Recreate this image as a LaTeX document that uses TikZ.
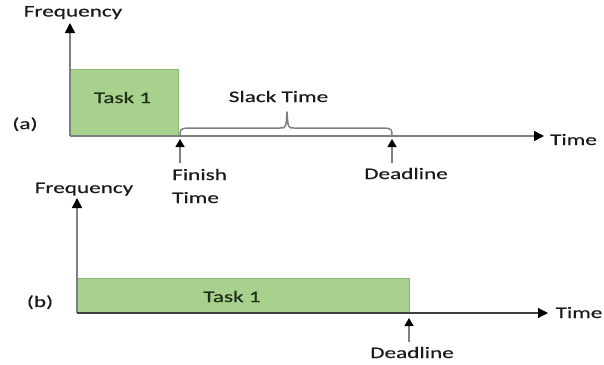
\documentclass[tikz,border=0pt]{standalone}
\usepackage{fontspec}
\setmainfont{Carlito}[FakeStretch=1.45,FakeBold=0.5]
\usetikzlibrary{arrows.meta}
\definecolor{taskfill}{HTML}{A9D18E}
\definecolor{taskdraw}{HTML}{8DB870}
\definecolor{axisgray}{HTML}{7F7F7F}
\definecolor{axisdark}{HTML}{404040}
\definecolor{txt}{HTML}{1A1A1A}
\definecolor{tasktxt}{HTML}{1F2E17}
\begin{document}
\begin{tikzpicture}[x=1pt,y=-1pt,
  lbl/.style={font=\fontsize{16}{19}\selectfont, text=txt, inner sep=0pt, anchor=base},
  tasklbl/.style={lbl, text=tasktxt},
  taskbox/.style={fill=taskfill, draw=taskdraw, line width=0.8pt},
  axisline/.style={draw=axisgray, line width=1.5pt, -{Triangle[length=10pt,width=10pt,color=black]}},
  axisdarkline/.style={axisline, draw=axisdark, line width=1.2pt},
  marker/.style={draw=axisgray, line width=1.4pt, -{Triangle[length=8pt,width=9pt,color=black]}},
  bracestyle/.style={draw=axisgray, line width=1.5pt, line join=round}
]
\useasboundingbox (0,0) rectangle (604,364);

% ---------- (a) ----------
\draw[taskbox] (70,69) rectangle (178,136);
\coordinate (oa) at (70,136);
\coordinate (ya) at (70,23);
\coordinate (xa) at (544,136);
\draw[axisline] (oa) -- (ya);
\draw[axisline] (oa) -- (xa);

\node[lbl] (freqa) at (73,16.5) {Frequency};
\node[tasklbl] (taska) at (122.5,103) {Task 1};
\node[lbl] (labela) at (25,129) {(a)};
\node[lbl] (timea) at (573.5,145) {Time};
\node[lbl] (slack) at (278.5,102) {Slack Time};

% brace
\draw[bracestyle] (180,137) .. controls (180,129) .. (187,128) -- (280,128)
  .. controls (286,128) .. (287,112) .. controls (288,128) .. (294,128)
  -- (385,128) .. controls (392,129) .. (392,137);

% finish / deadline markers
\coordinate (fs) at (180,163);
\coordinate (ft) at (180,139);
\coordinate (ds) at (392,163);
\coordinate (dt) at (392,139);
\draw[marker] (fs) -- (ft);
\draw[marker] (ds) -- (dt);
\node[lbl, anchor=base west] (finish) at (172,180) {Finish};
\node[lbl, anchor=base west] (ftime) at (172,203) {Time};
\node[lbl] (deada) at (406,179) {Deadline};

% ---------- (b) ----------
\draw[taskbox] (77,278) rectangle (409,313);
\coordinate (ob) at (77,313);
\coordinate (yb) at (77,198);
\coordinate (xb) at (548,313);
\draw[axisline] (ob) -- (yb);
\draw[axisdarkline] (ob) -- (xb);

\node[lbl] (freqb) at (84,193) {Frequency};
\node[tasklbl] (taskb) at (232,302) {Task 1};
\node[lbl] (labelb) at (40,307) {(b)};
\node[lbl] (timeb) at (579,318) {Time};

\coordinate (dbs) at (409,342);
\coordinate (dbt) at (409,318);
\draw[marker] (dbs) -- (dbt);
\node[lbl] (deadb) at (412,358) {Deadline};
\end{tikzpicture}
\end{document}
